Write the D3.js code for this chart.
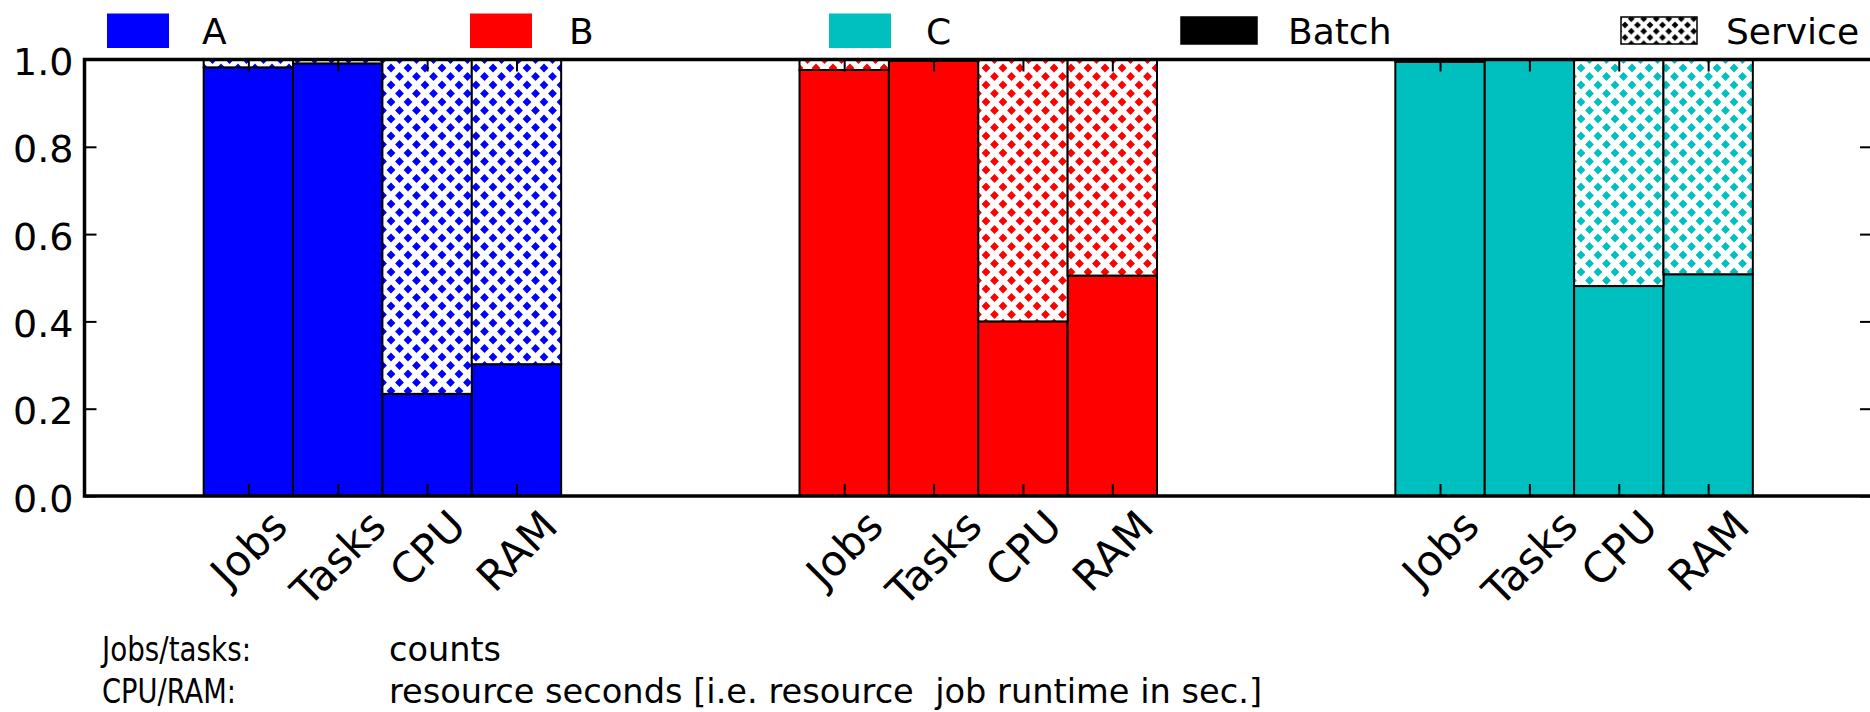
<!DOCTYPE html>
<html>
<head>
<meta charset="utf-8">
<script src="https://cdnjs.cloudflare.com/ajax/libs/d3/7.8.5/d3.min.js"></script>
<style>
  body { margin: 0; background: #fff; }
  text { font-family: "DejaVu Sans", sans-serif; fill: #000; }
</style>
</head>
<body>
<svg id="chart" width="1870" height="712"></svg>
<script>
// Workload groups and the four measures compared within each group
const groups = ["A", "B", "C"];
const metrics = ["Jobs", "Tasks", "CPU", "RAM"];

// Batch share of each measure (service share is the remainder to 1.0)
const batchA = [0.982, 0.991, 0.234, 0.302];
const batchB = [0.976, 0.997, 0.400, 0.505];
const batchC = [0.995, 0.999, 0.481, 0.508];

const groupColors = ["#0000ff", "#ff0000", "#00bfbf"];
const yTicks = [0.0, 0.2, 0.4, 0.6, 0.8, 1.0];
const kindLabels = ["Batch", "Service"];
const noteLabels = ["Jobs/tasks:", "CPU/RAM:"];
const noteTexts = ["counts", "resource seconds [i.e. resource  job runtime in sec.]"];

const batchShares = [batchA, batchB, batchC];

const svg = d3.select("#chart");
svg.append("rect").attr("width", 1870).attr("height", 712).attr("fill", "#fff");

// Plot area: 20 x-units; each group sits centred in a third of the range
const x = d3.scaleLinear().domain([0, 20]).range([84.5, 1872]);
const y = d3.scaleLinear().domain([0, 1]).range([496, 59.5]);
const groupSpan = 20 / 3;
const barStart = (g, i) => g * groupSpan + (groupSpan - metrics.length) / 2 + i;

// Diamond hatch used for the service share
const defs = svg.append("defs");
const P = 17, R = 4.4;
function diamond(cx, cy, r) {
  return `M${cx},${cy - r}L${cx + r},${cy}L${cx},${cy + r}L${cx - r},${cy}Z`;
}
function addHatch(id, color, size, r) {
  const pat = defs.append("pattern")
    .attr("id", id)
    .attr("patternUnits", "userSpaceOnUse")
    .attr("width", size).attr("height", size);
  pat.append("rect").attr("width", size).attr("height", size).attr("fill", "#fff");
  const pts = [[0, 0], [size, 0], [0, size], [size, size], [size / 2, size / 2]];
  pat.append("path")
    .attr("d", pts.map(p => diamond(p[0], p[1], r)).join(""))
    .attr("fill", color);
}
groupColors.forEach((c, g) => addHatch("hatch" + g, c, P, R));
addHatch("hatchLegend", "#000", 12.5, 3.4);

// Stacked bars
const bars = [];
batchShares.forEach((vals, g) => {
  vals.forEach((v, i) => bars.push({ g, i, v }));
});
const barG = svg.append("g");
barG.selectAll("rect.batch").data(bars).join("rect")
  .attr("class", "batch")
  .attr("x", d => x(barStart(d.g, d.i)))
  .attr("width", d => x(barStart(d.g, d.i) + 1) - x(barStart(d.g, d.i)))
  .attr("y", d => y(d.v))
  .attr("height", d => y(0) - y(d.v))
  .attr("fill", d => groupColors[d.g])
  .attr("stroke", "#000").attr("stroke-width", 2);
barG.selectAll("rect.service").data(bars).join("rect")
  .attr("class", "service")
  .attr("x", d => x(barStart(d.g, d.i)))
  .attr("width", d => x(barStart(d.g, d.i) + 1) - x(barStart(d.g, d.i)))
  .attr("y", y(1))
  .attr("height", d => y(d.v) - y(1))
  .attr("fill", d => `url(#hatch${d.g})`)
  .attr("stroke", "#000").attr("stroke-width", 2);

// Axes with inward ticks on all four sides
const centers = bars.map(d => barStart(d.g, d.i) + 0.5);
const tickLen = 12;
const yFont = 38, xFont = 42;
function styleAxis(sel) {
  sel.select(".domain").remove();
  sel.selectAll(".tick line").attr("stroke", "#000").attr("stroke-width", 2);
}
svg.append("g").attr("transform", `translate(${x(0)},0)`)
  .call(d3.axisLeft(y).tickValues(yTicks).tickSize(-tickLen).tickPadding(11).tickFormat(d3.format(".1f")))
  .call(styleAxis)
  .call(s => s.selectAll(".tick text")
    .attr("font-size", yFont).attr("font-family", "DejaVu Sans").attr("fill", "#000")
    .attr("dy", null).attr("y", 15));
svg.append("g").attr("transform", `translate(${x(20)},0)`)
  .call(d3.axisRight(y).tickValues(yTicks).tickSize(-tickLen).tickFormat(""))
  .call(styleAxis);
svg.append("g").attr("transform", `translate(0,${y(1)})`)
  .call(d3.axisTop(x).tickValues(centers).tickSize(-tickLen).tickFormat(""))
  .call(styleAxis);
const bottom = svg.append("g").attr("transform", `translate(0,${y(0)})`)
  .call(d3.axisBottom(x).tickValues(centers).tickSize(-tickLen)
    .tickFormat((d, k) => metrics[k % metrics.length]))
  .call(styleAxis);

// Rotated category labels: 45 degrees, bounding box centred under each tick
const fs = xFont, asc = 0.928 * fs, desc = 0.236 * fs, c45 = Math.SQRT1_2;
const labelTop = 5;
bottom.selectAll(".tick text")
  .attr("font-size", fs).attr("font-family", "DejaVu Sans").attr("fill", "#000")
  .attr("text-anchor", "start").attr("dy", null).attr("y", null)
  .each(function () {
    const w = this.getComputedTextLength();
    const x0 = -c45 * (w + desc - asc) / 2;
    const y0 = labelTop + c45 * (w + asc);
    d3.select(this).attr("transform", `translate(${x0},${y0}) rotate(-45)`);
  });

// Plot frame
svg.append("rect")
  .attr("x", x(0)).attr("y", y(1))
  .attr("width", x(20) - x(0)).attr("height", y(0) - y(1))
  .attr("fill", "none").attr("stroke", "#000").attr("stroke-width", 3.5);

// Legend: group colours, then batch / service fill styles
const legendGroups = [
  { x: 107, label: 202 },
  { x: 470, label: 569 },
  { x: 829, label: 926 }
];
const legend = svg.append("g");
groups.forEach((name, g) => {
  legend.append("rect")
    .attr("x", legendGroups[g].x).attr("y", 13.5)
    .attr("width", 62).attr("height", 34.5)
    .attr("fill", groupColors[g]);
  legend.append("text")
    .attr("x", legendGroups[g].label).attr("y", 43.5)
    .attr("font-size", 36).text(name);
});
const kindPos = [
  { x: 1181, label: 1288, fill: "#000" },
  { x: 1621, label: 1726, fill: "url(#hatchLegend)" }
];
kindLabels.forEach((name, k) => {
  legend.append("rect")
    .attr("x", kindPos[k].x).attr("y", 17)
    .attr("width", 76).attr("height", 27)
    .attr("fill", kindPos[k].fill)
    .attr("stroke", "#000").attr("stroke-width", 1.5);
  legend.append("text")
    .attr("x", kindPos[k].label).attr("y", 43.5)
    .attr("font-size", 36).text(name);
});

// Unit notes under the chart (narrow set type, fitted to its column widths)
const noteLabelWidths = [149, 134];
const noteTextWidths = [112, 873];
const notes = svg.append("g");
noteLabels.forEach((lab, k) => {
  const by = 661 + k * 42;
  notes.append("text").attr("x", 102).attr("y", by)
    .attr("font-size", 33)
    .attr("textLength", noteLabelWidths[k]).attr("lengthAdjust", "spacingAndGlyphs")
    .text(lab);
  notes.append("text").attr("x", 389).attr("y", by)
    .attr("font-size", 33).style("white-space", "pre")
    .attr("textLength", noteTextWidths[k]).attr("lengthAdjust", "spacingAndGlyphs")
    .text(noteTexts[k]);
});
</script>
</body>
</html>
